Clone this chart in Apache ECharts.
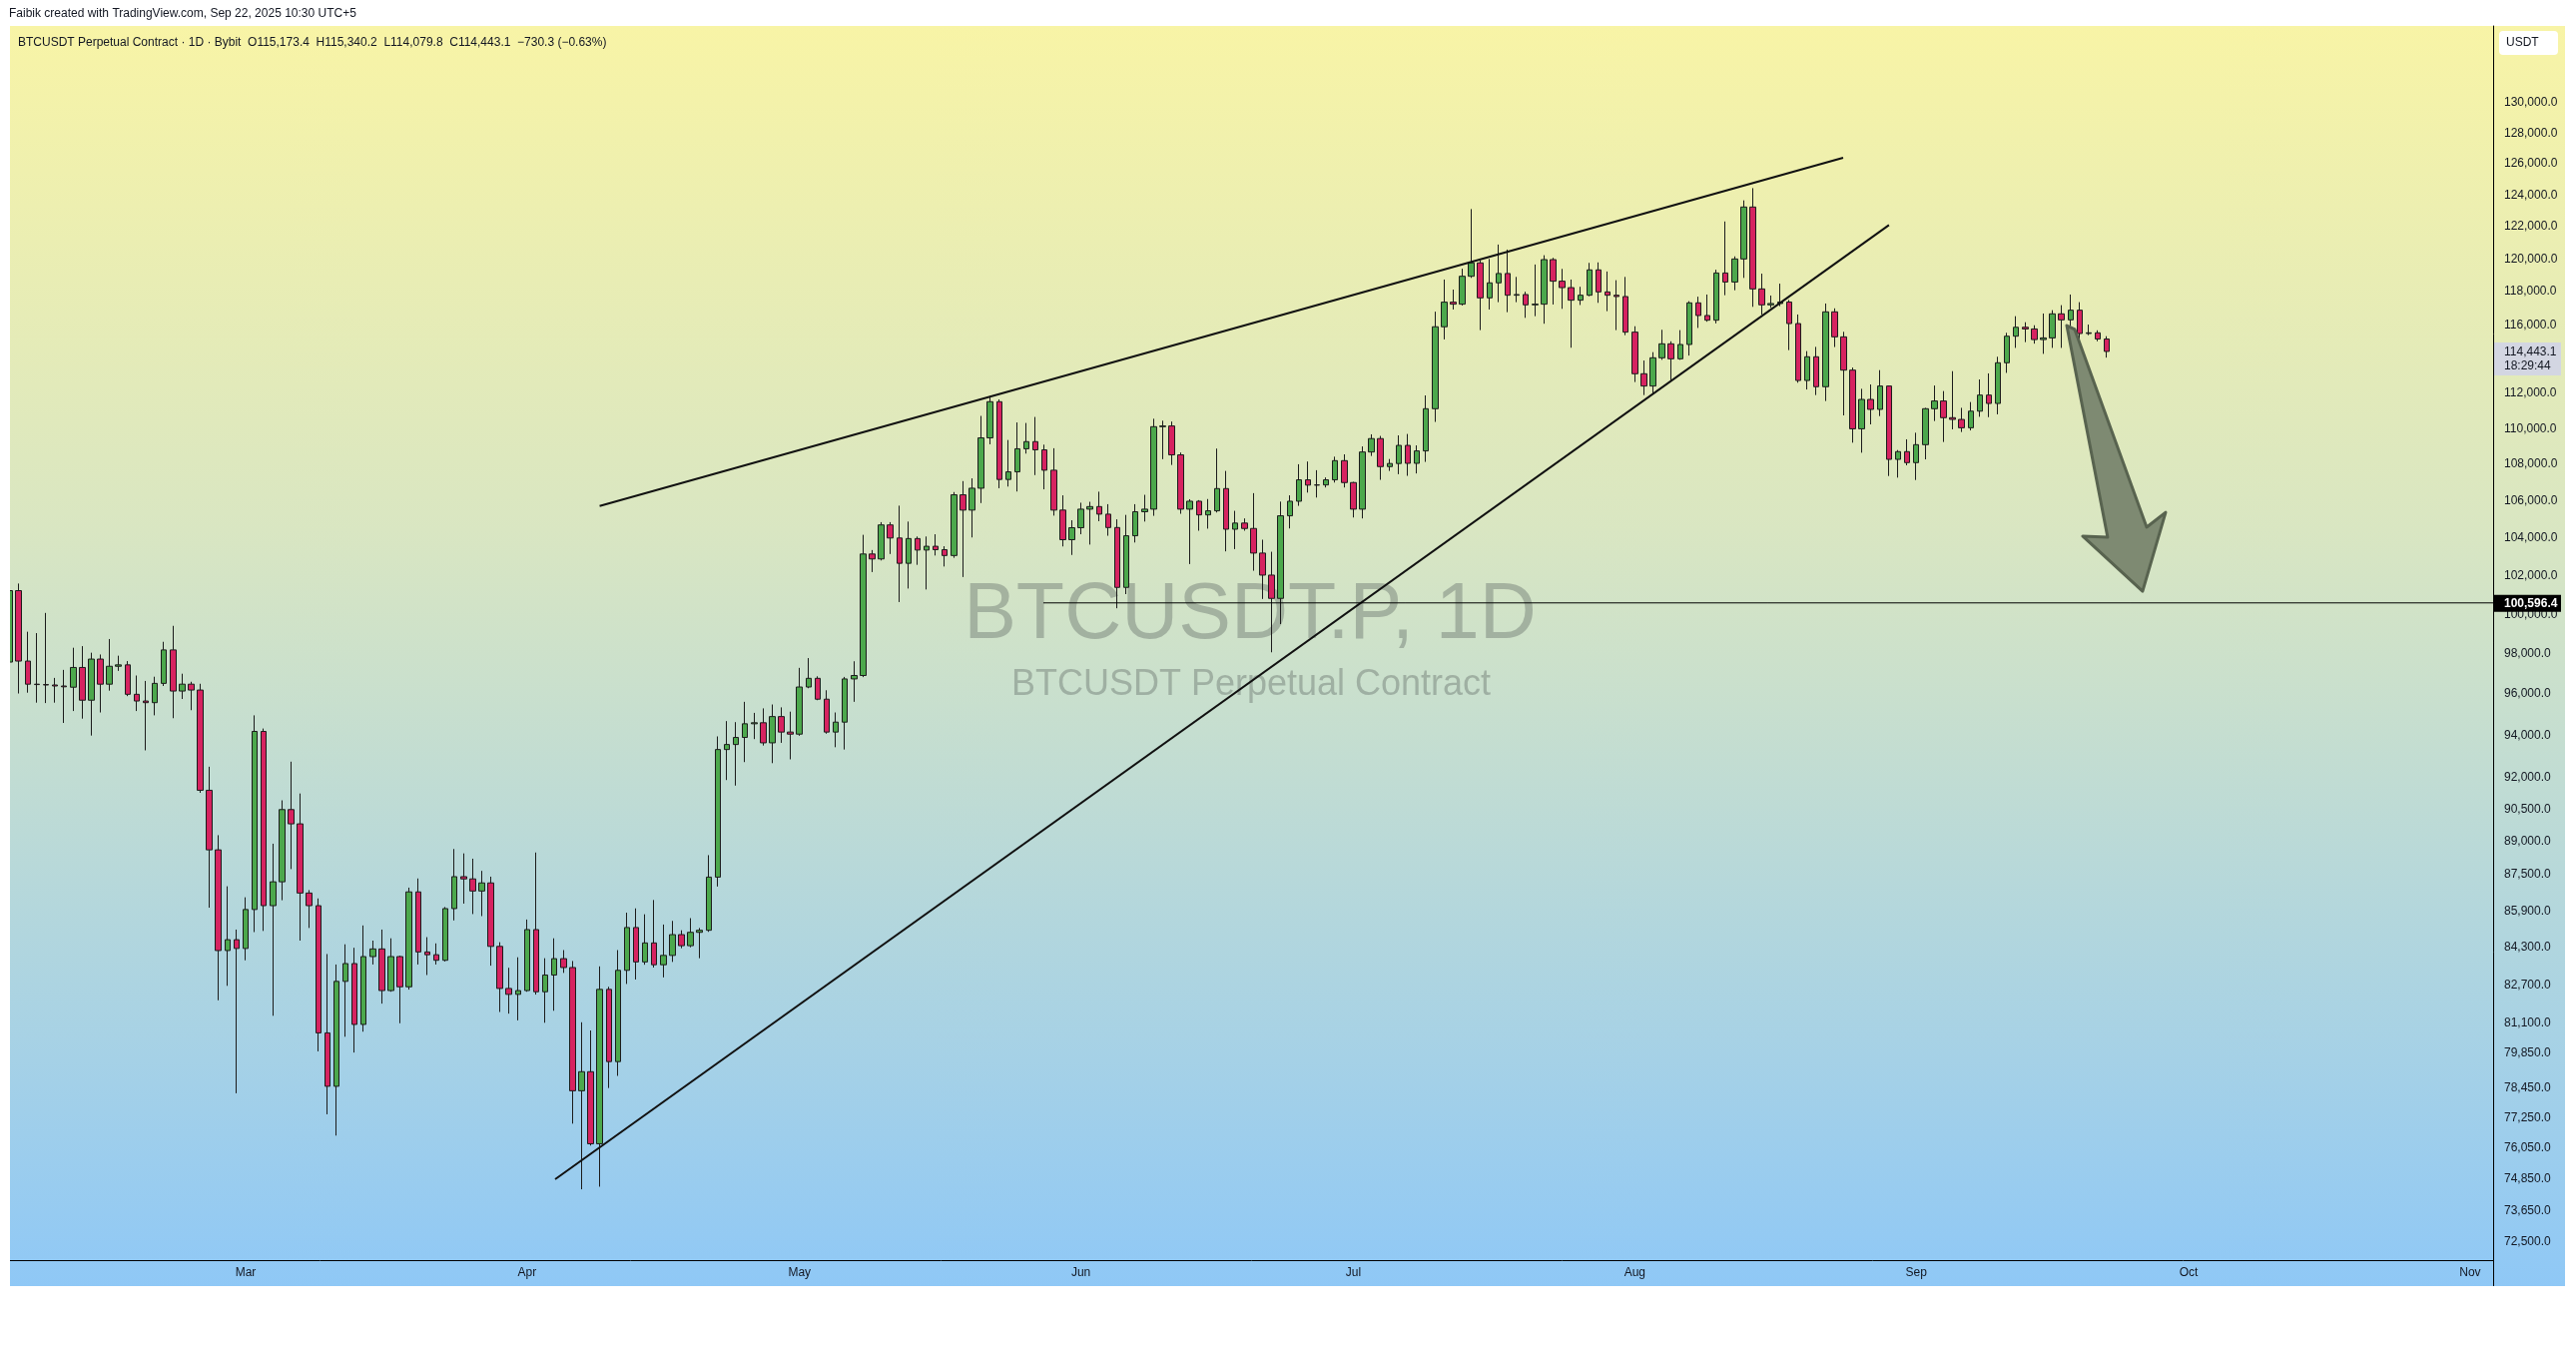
<!DOCTYPE html>
<html>
<head>
<meta charset="utf-8">
<script src="https://cdn.jsdelivr.net/npm/echarts@6/dist/echarts.min.js"></script>
<style>
html,body{margin:0;padding:0;background:#ffffff;}
#bg{position:absolute;left:10px;top:26px;width:2559px;height:1262px;background:linear-gradient(to bottom,#F8F4A6 0%,#D9E6C2 40%,#8FC8F6 100%);}
#chart{position:absolute;left:0;top:0;width:2580px;height:1349px;}
</style>
</head>
<body>
<div id="bg"></div>
<div id="chart"></div>
<script>
// Daily candles [open, close, low, high], BTCUSDT.P 1D, starting 2025-02-03
const feb = [
[97590,101230,91230,102500],[101230,97640,96030,101600],[97640,96490,96070,99120],[96490,96470,95580,99050],
[96470,96450,95560,100080],[96450,96400,95580,96800],[96400,96360,94590,97200],[96340,97320,95170,98310],
[97320,95700,94800,98390],[95700,97740,93980,98060],[97740,96490,95100,97970],[96490,97380,96170,98750],
[97380,97450,97150,97910],[97450,95990,95900,97640],[95990,95660,95170,96920],[95660,95580,93270,96650],
[95580,96530,94960,96860],[96530,98200,96400,98610],[98200,96150,94820,99420],[96150,96490,95760,97010],
[96490,96200,95210,96610],[96200,91380,91260,96510],[91380,88630,86040,92490],[88630,84170,82050,89300],
[84170,84640,82660,86990],[84640,84260,78230,85080]
];
const mar = [
[84260,85960,83750,86500],[85960,94180,84970,94960],[94180,86130,85020,94320],[86130,87190,81400,88910],
[87190,90480,86370,90910],[90480,89820,87760,92730],[89820,86690,84600,91230],[86690,86130,85150,86820],
[86130,80690,79930,86450],[80690,78510,77390,84020],[78510,82850,76550,83570],[82850,83610,80530,84440],
[83610,81040,79880,84290],[81040,83910,80740,85260],[83910,84240,83570,84600],[84240,82460,81910,85080],
[82460,83910,82410,84700],[83910,82620,81090,83950],[82620,86740,82500,86930],[86740,84110,83570,87340],
[84110,83990,83120,84750],[83990,83750,83570,84480],[83750,86000,83700,86070],[86000,87420,85480,88670],
[87420,87320,86220,88470],[87320,86780,85760,88230],[86780,87140,85670,87680],[87140,84350,83520,87420],
[84350,82550,81560,84530],[82550,82300,81490,83430],[82300,82460,81210,83880]
];
const apr = [
[82460,85080,82410,85520],[85080,82410,82290,88510],[82410,83120,81110,83840],[83120,83820,81610,84700],
[83820,83440,83210,84190],[83440,78330,77020,83720],[78330,79100,74470,81130],[79100,76230,76160,80790],
[76230,82510,74570,83490],[82510,79510,78440,82620],[79510,83320,78930,84190],[83320,85170,82740,85820],
[85170,83680,82930,86010],[83680,84500,83560,85750],[84500,83560,83440,86380],[83560,83960,83020,85300],
[83960,84860,83680,85460],[84860,84380,84270,85050],[84380,84960,84310,85580],[84960,85050,83840,85150],
[85050,87400,84980,88390],[87400,93310,86980,93940],[93310,93550,91860,94680],[93550,93890,91600,94630],
[93890,94550,92710,95620],[94550,94600,93810,95080],[94600,93630,93500,95300],[93630,94900,92660,95490],
[94900,94150,93630,95350],[94150,94050,92840,95140]
];
const may = [
[94050,96350,93970,97300],[96350,96780,96290,97790],[96780,95750,95700,96880],[95750,94150,94070,96190],
[94150,94630,93420,95100],[94630,96750,93310,96850],[96750,96920,95620,97630],[96920,103150,96840,104170],
[103150,102890,102200,103360],[102890,104700,102810,104850],[104700,104000,103150,104850],[104000,102660,100640,105740],
[102660,103970,101340,104880],[103970,103360,102580,104080],[103360,103560,101290,104080],[103560,103380,103070,104200],
[103380,103070,102490,103560],[103070,106330,102950,106480],[106330,105500,101940,107080],[105500,106690,104030,107230],
[106690,109480,105880,110720],[109480,111530,109120,111850],[111530,107170,106690,111660],[107170,107590,106780,109360],
[107590,108870,106510,110350],[108870,109270,108600,110320],[109270,108810,107410,110660],[108810,107680,106630,109100],
[107680,105500,105200,108900],[105500,103910,103550,106300],[103910,104550,103100,104950]
];
const jun = [
[104550,105550,104200,105900],[105550,105690,103650,105950],[105690,105280,104900,106500],[105280,104560,104120,105820],
[104560,101400,100320,105000],[101400,104120,101050,105240],[104120,105410,103760,105820],[105410,105550,104880,106330],
[105550,110110,105190,110560],[110110,110150,108290,110450],[110150,108530,107970,110400],[108530,105550,105300,108660],
[105550,105980,102620,106090],[105980,105240,104390,106040],[105240,105460,104500,106100],[105460,106670,105370,108880],
[106670,104470,103290,107640],[104470,104800,103410,105460],[104800,104510,104390,105050],[104510,103200,102270,106420],
[103200,102040,100800,103910],[102040,100830,98080,103270],[100830,105190,99510,105960],[105190,105980,104510,106300],
[105980,107150,105730,108010],[107150,106860,106450,108160],[106860,106870,106180,107680],[106870,107150,106730,107280],
[107150,108210,107000,108430],[108210,107000,106730,108560]
];
const jul = [
[107000,105550,105100,107040],[105550,108690,105050,109000],[108690,109440,108470,109680],[109440,107880,107150,109590],
[107880,108050,107640,108300],[108050,109060,107460,109620],[109060,108060,107370,109700],[108060,108750,107500,109060],
[108750,111130,108140,111890],[111130,115900,110380,116800],[115900,117370,115150,118740],[117370,117250,116930,118130],
[117250,118940,117170,119400],[118940,119760,118840,123110],[119760,117630,115700,119900],[117630,118540,116930,120000],
[118540,119110,117370,120890],[119110,117790,116770,120580],[117790,117830,117370,118900],[117830,117210,116430,118000],
[117210,117250,116530,119660],[117250,119960,116080,120230],[119960,118640,117230,120070],[118640,118250,116970,119390],
[118250,117490,114660,118740],[117490,117790,117200,118300],[117790,119330,117730,119760],[119330,117990,117330,119790],
[117990,117790,116830,119230],[117790,117710,115700,118700],[117710,115580,115400,118900]
];
const aug = [
[115580,113140,112660,115930],[113140,112430,111910,113910],[112430,114070,111950,114400],[114070,114890,113950,115720],
[114890,114010,112700,115040],[114010,114850,113950,115700],[114850,117330,114200,117430],[117330,116570,115830,117700],
[116570,116290,116200,117830],[116290,119140,116100,119340],[119140,118590,117790,122330],[118590,120000,118090,120160],
[120000,123240,118840,123660],[123240,118170,117090,124440],[118170,117210,116630,119100],[117210,117290,117030,117770],
[117290,117380,117130,118490],[117380,116090,114520,117500],[116090,112750,112620,116630],[112750,114130,112230,114460],
[114130,112390,111910,114710],[112390,116790,111570,117290],[116790,115300,114700,117000],[115300,113350,110750,115600],
[113350,109990,109210,113500],[109990,111660,108650,112270],[111660,111090,110240,112520],[111090,112430,110710,113350],
[112430,108280,107360,112460],[108280,108710,107270,108800],[108710,108100,107950,109400]
];
const sep = [
[108100,109100,107140,109770],[109100,111130,108280,111180],[111130,111570,110430,112460],[111570,110620,109250,112140],
[110620,110520,109960,113290],[110520,110050,109810,111180],[110050,110990,109900,111510],[110990,111910,110670,112810],
[111910,111430,110650,113160],[111430,113780,110810,114130],[113780,115340,113190,115540],[115340,115870,114650,116530],
[115870,115770,114990,116170],[115770,115140,114900,115990],[115140,115240,114300,116690],[115240,116670,114650,116890],
[116670,116310,114650,117190],[116310,116890,115930,117830],[116890,115500,114990,117370],[115500,115540,115400,116030],
[115540,115173.4,115040,115690],[115173.4,114443.1,114079.8,115340.2]
];

// Axis ticks / labels (x = day index from 2025-02-03)
const monthTicks = [26, 57, 87, 118, 148, 179, 210, 240, 271];
const monthLabels = ['Mar', 'Apr', 'May', 'Jun', 'Jul', 'Aug', 'Sep', 'Oct', 'Nov'];
const priceTicks = [72500, 73650, 74850, 76050, 77250, 78450, 79850, 81100, 82700, 84300, 85900, 87500,
  89000, 90500, 92000, 94000, 96000, 98000, 100000, 102000, 104000, 106000, 108000, 110000, 112000,
  114000, 116000, 118000, 120000, 122000, 124000, 126000, 128000, 130000];

// Drawings, in [day index, price]
const upperLine = [[64.99, 105718], [201.95, 126390]];
const lowerLine = [[60.09, 74857], [207.0, 122103]];
const levelLine = [[113.86, 100596.4], [273.54, 100596.4]];
const arrowPts = [[226.58, 115970], [227.46, 115740], [235.38, 104580], [237.47, 105380], [234.93, 101200], [228.33, 104100], [231.08, 104040]];
const lastPrice = 114443.1;
const levelPrice = 100596.4;

const candles = [];
[feb, mar, apr, may, jun, jul, aug, sep].forEach(m => m.forEach(r => candles.push([candles.length, r[0], r[1], r[2], r[3]])));

const FONT = '"Liberation Sans", Arial, sans-serif';
const TXT = '#131722';
const fmt = v => Number(v).toLocaleString('en-US', {minimumFractionDigits: 1, maximumFractionDigits: 1});

const chart = echarts.init(document.getElementById('chart'), null, {renderer: 'canvas'});
chart.setOption({
  animation: false,
  backgroundColor: 'transparent',
  grid: {left: 10, right: 83, top: 26, bottom: 87, containLabel: false, outerBoundsMode: 'none'},
  xAxis: {
    type: 'value', min: 0.044, max: 273.54,
    axisLine: {show: true, onZero: false, lineStyle: {color: '#000', width: 1}},
    axisTick: {show: false}, splitLine: {show: false},
    axisLabel: {
      customValues: monthTicks,
      formatter: v => monthLabels[monthTicks.indexOf(Math.round(v))] || '',
      color: TXT, fontSize: 12, fontFamily: FONT, margin: 7
    }
  },
  yAxis: {
    type: 'log', logBase: 10, position: 'right', min: 71814, max: 135230,
    axisLine: {show: true, onZero: false, lineStyle: {color: '#000', width: 1}},
    axisTick: {show: false}, splitLine: {show: false},
    axisLabel: {customValues: priceTicks, formatter: fmt, color: TXT, fontSize: 12, fontFamily: FONT, margin: 11}
  },
  series: [
    {
      type: 'candlestick', data: candles, barWidth: 6, z: 3,
      itemStyle: {color: '#4CA84C', color0: '#D62360', borderColor: '#1C1C1C', borderColor0: '#1C1C1C', borderWidth: 1}
    },
    {type: 'line', data: upperLine, symbol: 'none', z: 5, lineStyle: {color: '#111', width: 2}},
    {type: 'line', data: lowerLine, symbol: 'none', z: 5, lineStyle: {color: '#111', width: 2}},
    {type: 'line', data: levelLine, symbol: 'none', z: 5, lineStyle: {color: '#000', width: 1}},
    {
      type: 'custom', z: 6, silent: true, clip: false,
      data: [arrowPts[0]],
      renderItem: (params, api) => ({
        type: 'polygon',
        shape: {points: arrowPts.map(p => api.coord(p))},
        style: {fill: '#7E8A72', stroke: '#58634F', lineWidth: 3, lineJoin: 'round'}
      })
    }
  ]
});

const yLast = chart.convertToPixel({gridIndex: 0}, [200, lastPrice])[1];
const yLevel = chart.convertToPixel({gridIndex: 0}, [200, levelPrice])[1];

chart.setOption({
  graphic: [
    {type: 'rect', z: 30, silent: true, shape: {x: 0, y: 26, width: 10, height: 1262}, style: {fill: '#FFFFFF'}},
    {type: 'text', x: 9, y: 14, z: 10, style: {text: 'Faibik created with TradingView.com, Sep 22, 2025 10:30 UTC+5', fill: TXT, font: '12px ' + FONT, verticalAlign: 'middle'}},
    {type: 'text', x: 18, y: 43, z: 10, style: {text: 'BTCUSDT Perpetual Contract \u00B7 1D \u00B7 Bybit  O115,173.4  H115,340.2  L114,079.8  C114,443.1  \u2212730.3 (\u22120.63%)', fill: TXT, font: '12px ' + FONT, verticalAlign: 'middle'}},
    {type: 'text', x: 1252, y: 617, z: 0, silent: true, style: {text: 'BTCUSDT.P, 1D', fill: 'rgba(100,110,105,0.42)', font: '79px ' + FONT, align: 'center', verticalAlign: 'middle'}},
    {type: 'text', x: 1253, y: 686, z: 0, silent: true, style: {text: 'BTCUSDT Perpetual Contract', fill: 'rgba(100,110,105,0.42)', font: '36px ' + FONT, align: 'center', verticalAlign: 'middle'}},
    {type: 'line', z: 10, shape: {x1: 2497.5, y1: 1262, x2: 2497.5, y2: 1288}, style: {stroke: '#000', lineWidth: 1}},
    {type: 'rect', z: 20, shape: {x: 2503, y: 31, width: 59, height: 24, r: 4}, style: {fill: '#FFFFFF'}},
    {type: 'text', z: 21, x: 2510, y: 43, style: {text: 'USDT', fill: TXT, font: '12px ' + FONT, verticalAlign: 'middle'}},
    {type: 'rect', z: 20, shape: {x: 2498, y: yLast - 9, width: 67, height: 33}, style: {fill: '#D3D6E2'}},
    {type: 'text', z: 21, x: 2508, y: yLast + 1, style: {text: fmt(lastPrice), fill: TXT, font: '12px ' + FONT, verticalAlign: 'middle'}},
    {type: 'text', z: 21, x: 2508, y: yLast + 15, style: {text: '18:29:44', fill: TXT, font: '12px ' + FONT, verticalAlign: 'middle'}},
    {type: 'rect', z: 20, shape: {x: 2498, y: yLevel - 8, width: 67, height: 17}, style: {fill: '#000000'}},
    {type: 'text', z: 21, x: 2508, y: yLevel + 1, style: {text: fmt(levelPrice), fill: '#FFFFFF', font: 'bold 12px ' + FONT, verticalAlign: 'middle'}}
  ]
});
</script>
</body>
</html>
